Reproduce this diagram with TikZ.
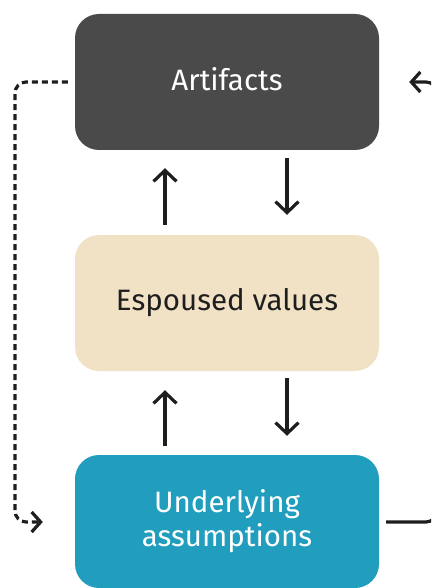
\documentclass[tikz,border=0pt]{standalone}
\usepackage{fontspec}
\setmainfont{Fira Sans}
\usetikzlibrary{arrows.meta}
\definecolor{artgray}{RGB}{74,74,74}
\definecolor{espbeige}{RGB}{241,226,198}
\definecolor{undteal}{RGB}{33,157,190}
\definecolor{inkdark}{RGB}{30,30,30}
\begin{document}
\begin{tikzpicture}[x=1pt,y=-1pt,
  level/.style={rectangle, rounded corners=24pt, minimum width=304pt,
    inner sep=0pt, align=center, font=\fontsize{29.5}{34}\selectfont},
  flow/.style={draw=inkdark, line width=3.2pt,
    -{Straight Barb[length=11pt,width=23pt,line width=3.2pt]}},
  loop/.style={draw=inkdark, line width=3.2pt, rounded corners=11pt,
    -{Straight Barb[length=9pt,width=20pt,line width=3.2pt]}}
]
\useasboundingbox (0,0) rectangle (431,588);
\begin{scope}
\clip (0,0) rectangle (431,588);

% the three levels
\node[level, fill=artgray, text=white, minimum height=136pt] (art) at (227,82) {\raisebox{6pt}{Artifacts}};
\node[level, fill=espbeige, text=inkdark, minimum height=136pt] (esp) at (227,303) {Espoused values};
\node[level, fill=undteal, text=white, minimum height=133pt] (und) at (227,521.5) {Underlying\\assumptions};

% arrows between adjacent levels
\draw[flow, shorten <=10pt, shorten >=18pt] ([xshift=-62pt]esp.north) -- ([xshift=-62pt]art.south);
\draw[flow, shorten <=8pt, shorten >=20pt] ([xshift=60pt]art.south) -- ([xshift=60pt]esp.north);
\draw[flow, shorten <=9pt, shorten >=19pt] ([xshift=-62pt]und.north) -- ([xshift=-62pt]esp.south);
\draw[flow, shorten <=7pt, shorten >=19pt] ([xshift=60pt]esp.south) -- ([xshift=60pt]und.north);

% dashed return loop on the left
\coordinate (lt) at (15,82);
\coordinate (lb) at (15,522);
\draw[loop, dash pattern=on 6pt off 4pt, shorten <=7pt, shorten >=32pt]
  (art.west) -- (lt) -- (lb) -- (und.west |- lb);

% solid loop on the right
\coordinate (rt) at (437,82);
\coordinate (rb) at (437,522);
\draw[loop, shorten <=7pt, shorten >=30pt]
  (und.east |- rb) -- (rb) -- (rt) -- (art.east);
\end{scope}
\end{tikzpicture}
\end{document}
